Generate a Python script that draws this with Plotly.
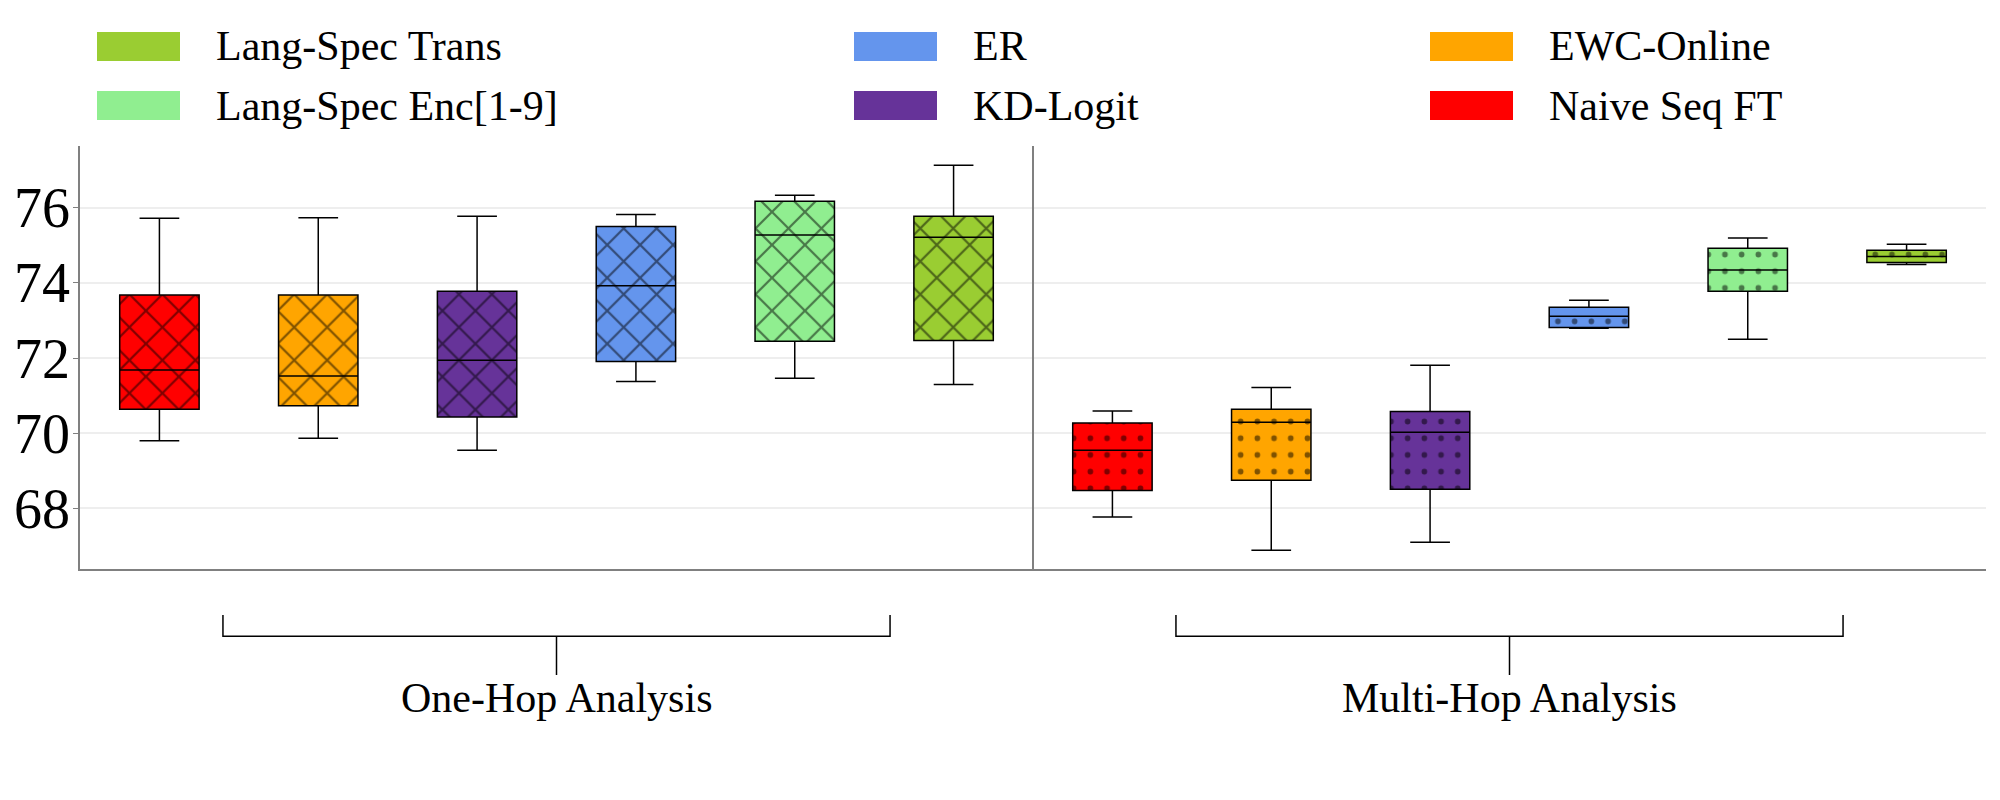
import plotly.graph_objects as go

# ---------------- data ----------------
methods = ["Naive Seq FT", "EWC-Online", "KD-Logit", "ER", "Lang-Spec Enc[1-9]", "Lang-Spec Trans"]
colors = ["#FF0000", "#FFA500", "#663399", "#6495ED", "#90EE90", "#9ACD32"]

groups = ["One-Hop Analysis", "Multi-Hop Analysis"]
group_patterns = ["x", "."]

one_lower = [69.80, 69.87, 69.55, 71.38, 71.46, 71.30]
one_q1 = [70.64, 70.73, 70.43, 71.91, 72.45, 72.47]
one_median = [71.68, 71.52, 71.94, 73.92, 75.27, 75.21]
one_q3 = [73.68, 73.68, 73.78, 75.50, 76.17, 75.77]
one_upper = [75.72, 75.73, 75.77, 75.82, 76.33, 77.13]

multi_lower = [67.77, 66.89, 67.10, 72.79, 72.50, 74.49]
multi_q1 = [68.48, 68.75, 68.51, 72.81, 73.78, 74.54]
multi_median = [69.55, 70.29, 70.03, 73.11, 74.34, 74.70]
multi_q3 = [70.27, 70.64, 70.58, 73.35, 74.92, 74.87]
multi_upper = [70.59, 71.22, 71.81, 73.54, 75.19, 75.03]

y_ticks = [68, 70, 72, 74, 76]

# legend layout: column-wise order
legend_columns = [["Lang-Spec Trans", "Lang-Spec Enc[1-9]"], ["ER", "KD-Logit"], ["EWC-Online", "Naive Seq FT"]]

# ---------------- figure ----------------
W, H = 2000, 800
ML, MR, MT, MB = 80, 14, 146, 231
PW, PH = W - ML - MR, H - MT - MB
FONT = "Liberation Serif, Times New Roman, serif"

def px_x(p):
    return (p - ML) / PW

def px_y(p):
    return (H - MB - p) / PH

stats = [
    (one_lower, one_q1, one_median, one_q3, one_upper),
    (multi_lower, multi_q1, multi_median, multi_q3, multi_upper),
]

pattern_style = {
    "x": dict(size=23.3, solidity=0.18),
    ".": dict(size=16.7, solidity=0.09),
}

fig = go.Figure()
n = len(methods)
BW = 0.5
for g, (lo, q1, med, q3, up) in enumerate(stats):
    shape = group_patterns[g]
    for i in range(n):
        pos = g * n + i
        fig.add_trace(go.Bar(
            x=[pos], y=[q3[i] - q1[i]], base=[q1[i]], width=BW,
            marker=dict(color=colors[i], line=dict(width=0),
                        pattern=dict(shape=shape, fgcolor="black", bgcolor=colors[i],
                                     fillmode="overlay", **pattern_style[shape])),
            showlegend=False, hoverinfo="skip",
        ))
        fig.add_trace(go.Box(
            x=[pos], q1=[q1[i]], median=[med[i]], q3=[q3[i]],
            lowerfence=[lo[i]], upperfence=[up[i]], width=BW, whiskerwidth=0.5,
            fillcolor="rgba(0,0,0,0)", line=dict(color="black", width=1.5),
            boxpoints=False, showlegend=False, name=methods[i],
        ))

shapes = []
annotations = []
# divider between groups
shapes.append(dict(type="line", xref="x", yref="paper", x0=n - 0.5, x1=n - 0.5, y0=0, y1=1,
                   line=dict(color="#808080", width=2)))
# group brackets and labels
for g, name in enumerate(groups):
    c = g * n + (n - 1) / 2
    hw = 2.1
    yb, ye, yt = px_y(636.3), px_y(615), px_y(675)
    shapes.append(dict(type="path", xref="x", yref="paper",
                       path=f"M {c-hw},{ye} L {c-hw},{yb} L {c+hw},{yb} L {c+hw},{ye}",
                       line=dict(color="black", width=1.5)))
    shapes.append(dict(type="line", xref="x", yref="paper", x0=c, x1=c, y0=yb, y1=yt,
                       line=dict(color="black", width=1.5)))
    annotations.append(dict(x=c, xref="x", y=px_y(698), yref="paper", text=name, showarrow=False,
                            xanchor="center", yanchor="middle", font=dict(family=FONT, size=42, color="black")))

# legend (manual, matching the reference layout)
col_x = [97, 854, 1430]
row_y = [46.5, 105.5]
for ci, col in enumerate(legend_columns):
    for ri, name in enumerate(col):
        color = colors[methods.index(name)]
        x0 = col_x[ci]
        shapes.append(dict(type="rect", xref="paper", yref="paper",
                           x0=px_x(x0), x1=px_x(x0 + 83), y0=px_y(row_y[ri] + 14.5), y1=px_y(row_y[ri] - 14.5),
                           fillcolor=color, line=dict(width=0)))
        annotations.append(dict(x=px_x(x0 + 83 + 34), xref="paper", y=px_y(row_y[ri]), yref="paper",
                                text=name, showarrow=False, xanchor="left", yanchor="middle",
                                font=dict(family=FONT, size=42, color="black")))

fig.update_layout(
    width=W, height=H,
    margin=dict(l=ML, r=MR, t=MT, b=MB, pad=0, autoexpand=False),
    paper_bgcolor="white", plot_bgcolor="white",
    barmode="overlay", boxmode="overlay",
    showlegend=False,
    shapes=shapes, annotations=annotations,
    font=dict(family=FONT, color="black"),
    xaxis=dict(range=[-0.5, 2 * n - 0.5], showgrid=False, zeroline=False, showticklabels=False,
               ticks="", showline=True, linecolor="#808080", linewidth=1.5, automargin=False),
    yaxis=dict(range=[66.39, 77.64], tickvals=y_ticks, ticktext=[str(t) for t in y_ticks],
               showgrid=True, gridcolor="#eeeeee", gridwidth=1.5, zeroline=False,
               showline=True, linecolor="#808080", linewidth=1.5, automargin=False,
               ticks="outside", ticklen=5, tickcolor="#808080", tickwidth=1,
               ticklabelstandoff=-8,
               tickfont=dict(family=FONT, size=56, color="black")),
)

fig.write_html("out.html", config={"displayModeBar": False},
               post_script="document.body.style.margin='0px';")
